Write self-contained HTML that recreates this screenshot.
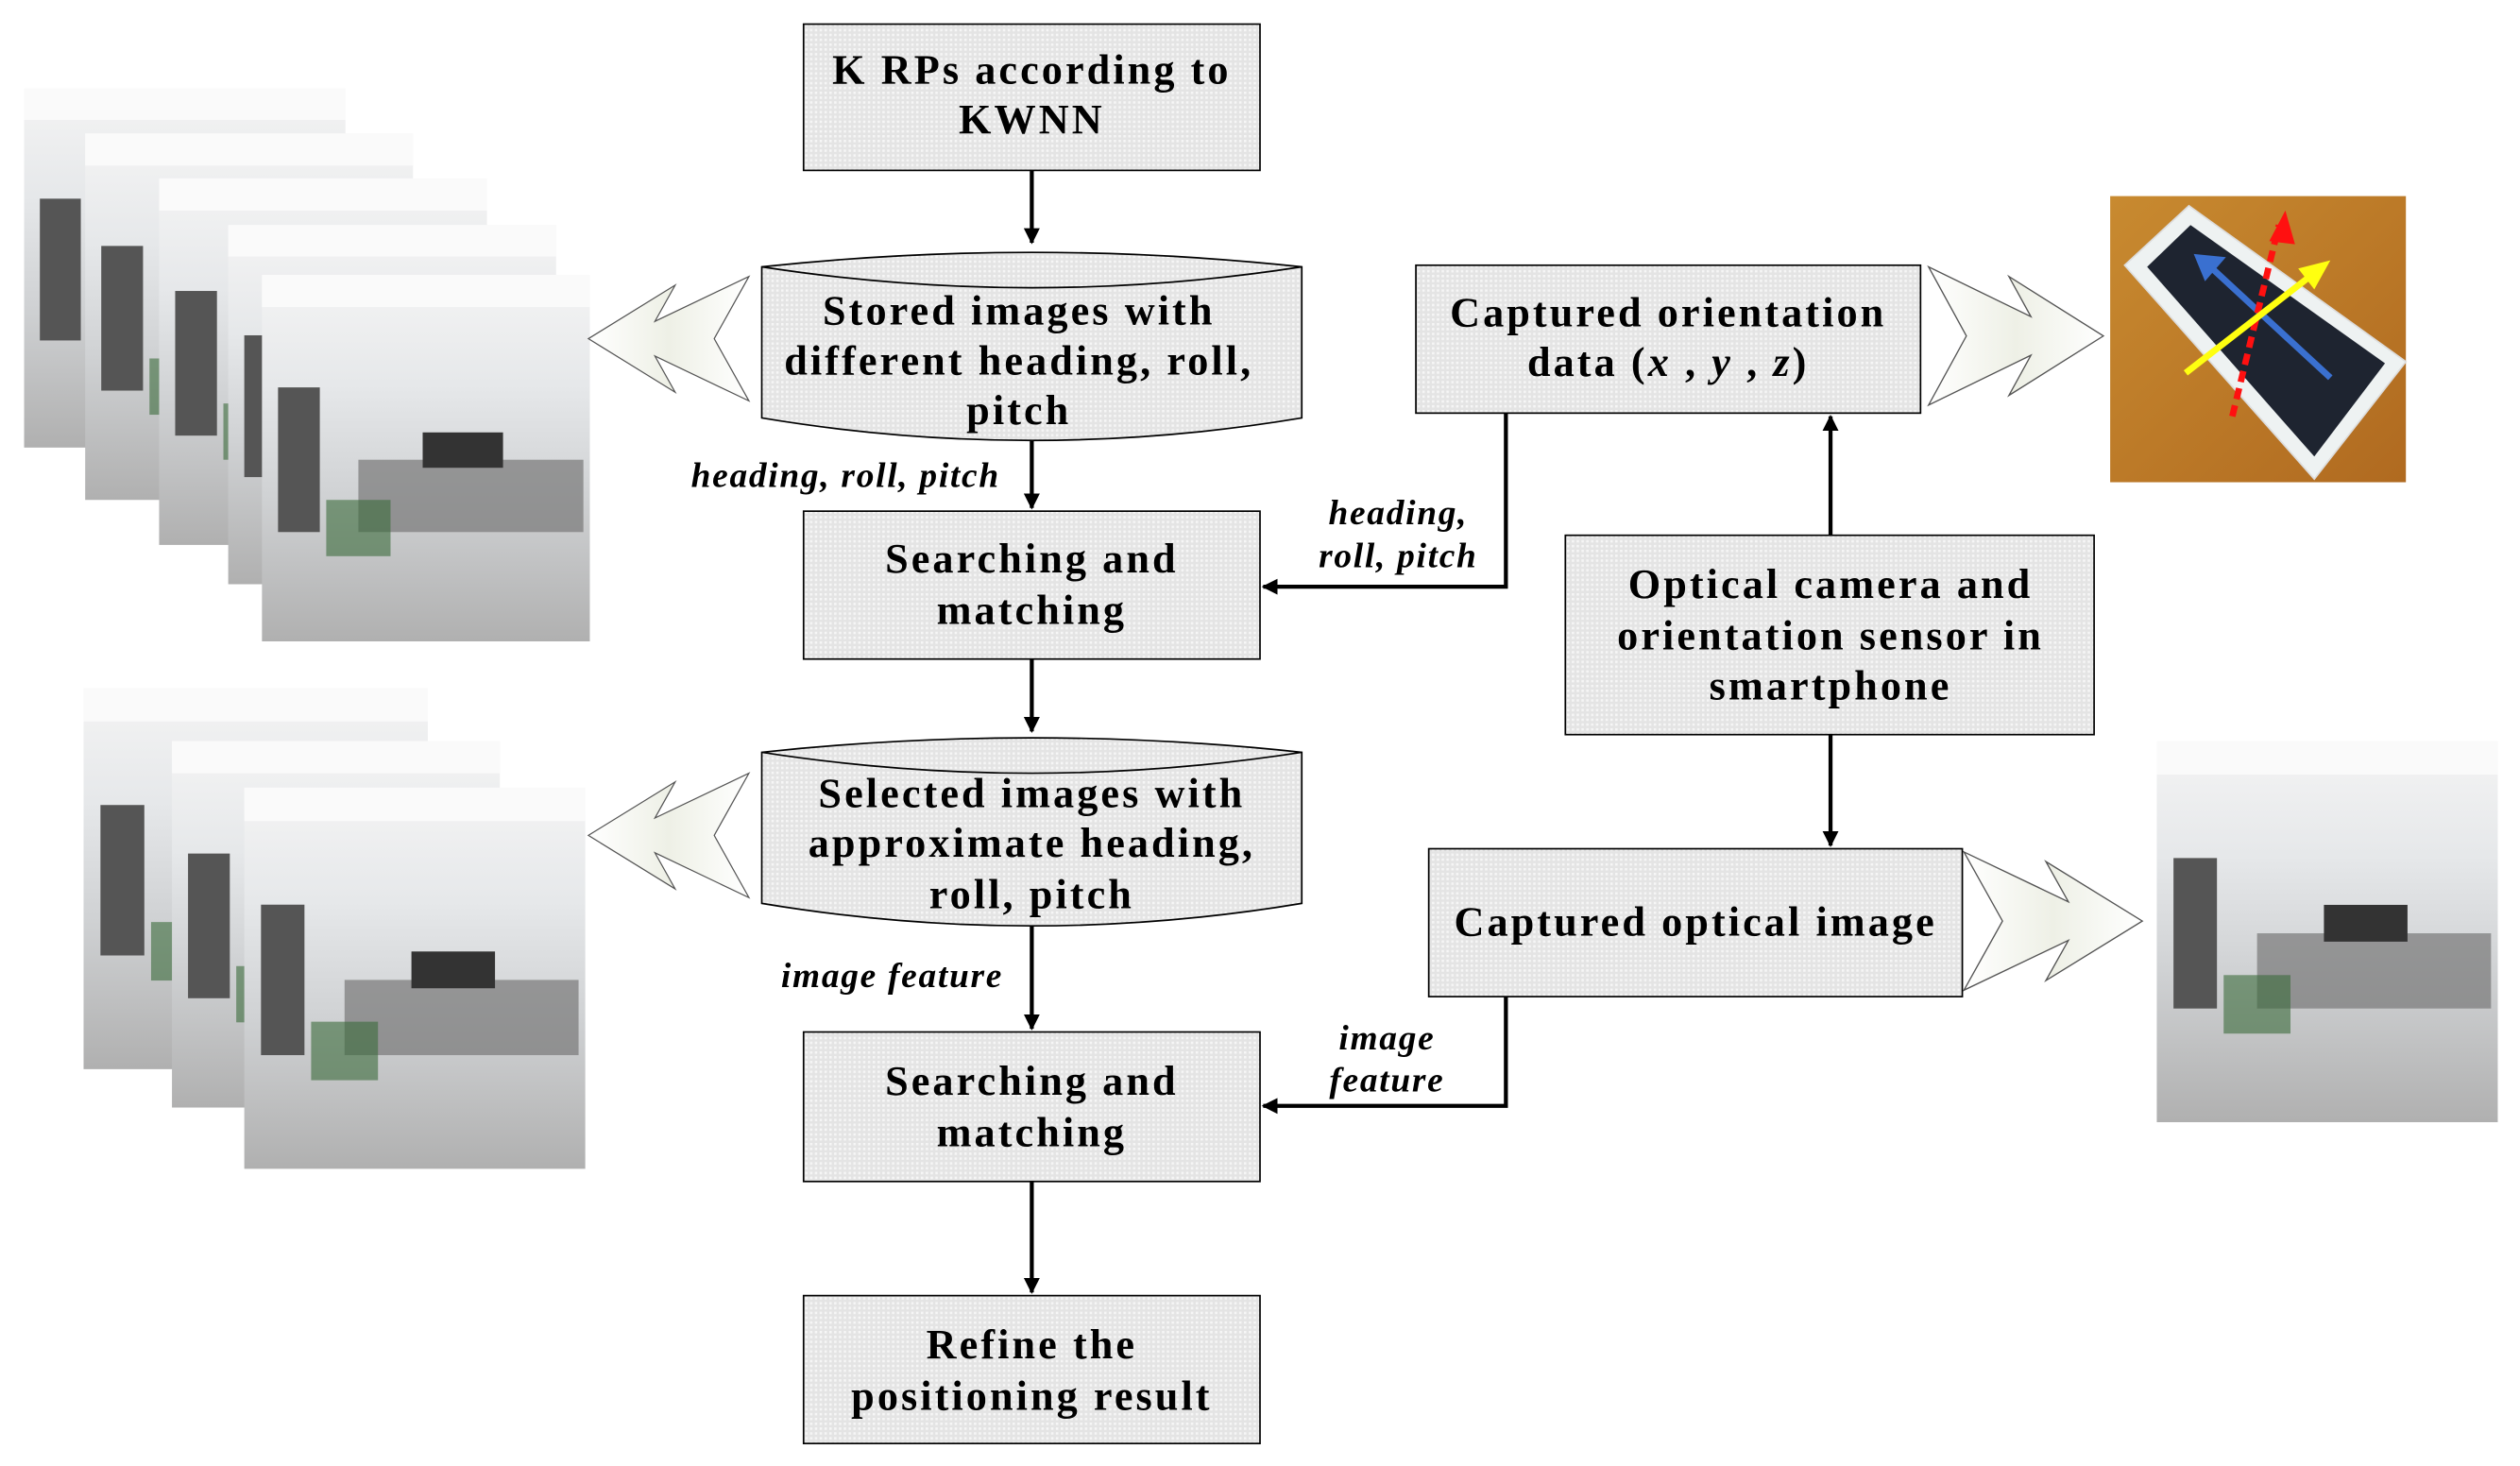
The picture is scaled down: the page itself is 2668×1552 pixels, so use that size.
<!DOCTYPE html>
<html><head><meta charset="utf-8"><style>html,body{margin:0;padding:0;background:#fff}svg{display:block}</style></head><body>
<svg width="2668" height="1552" viewBox="0 0 1568 912" preserveAspectRatio="none" xmlns="http://www.w3.org/2000/svg">
<defs>
<pattern id="dots" width="3" height="3" patternUnits="userSpaceOnUse"><rect width="3" height="3" fill="#e4e4e4"/><rect width="1.5" height="1.5" fill="#f6f6f6"/></pattern>
<linearGradient id="room" x1="0" y1="0" x2="0" y2="1"><stop offset="0" stop-color="#f4f4f4"/><stop offset="0.3" stop-color="#e6e8ea"/><stop offset="0.6" stop-color="#d0d2d4"/><stop offset="1" stop-color="#b0b0b0"/></linearGradient>
<linearGradient id="wood" x1="0" y1="0" x2="1" y2="1"><stop offset="0" stop-color="#c88a30"/><stop offset="1" stop-color="#b06a20"/></linearGradient>
<linearGradient id="hg" x1="0" y1="0" x2="1" y2="0"><stop offset="0" stop-color="#ffffff"/><stop offset="0.5" stop-color="#eef0e6"/><stop offset="1" stop-color="#ffffff"/></linearGradient>
<marker id="ah" markerWidth="10" markerHeight="10" refX="9" refY="5" orient="auto" markerUnits="userSpaceOnUse"><path d="M0,0 L10,5 L0,10 Z" fill="#000"/></marker>
<g id="photo"><rect width="204" height="228" fill="url(#room)"/><rect x="0" y="0" width="204" height="20" fill="#fafafa"/><rect x="10" y="70" width="26" height="90" fill="#555"/><rect x="60" y="115" width="140" height="45" fill="#777" opacity="0.7"/><rect x="100" y="98" width="50" height="22" fill="#333"/><rect x="40" y="140" width="40" height="35" fill="#3a6a3a" opacity="0.6"/></g>
<path id="dch" d="M0,0 L65,31 L51,6 L111,43 L51,80 L65,55 L0,86 L24,43 Z"/>
</defs>
<style>
.t{font-family:"Liberation Serif",serif;font-weight:bold;font-size:26px;letter-spacing:1.8px;text-anchor:middle}
.i{font-family:"Liberation Serif",serif;font-weight:bold;font-style:italic;font-size:22px;letter-spacing:1px}
.b{fill:url(#dots);stroke:#000;stroke-width:1}
.l{stroke:#000;stroke-width:2.5;fill:none}
.h{fill:url(#hg);stroke:#555;stroke-width:0.8}
</style>

<use href="#photo" transform="translate(15,55) scale(0.98,0.98)"/>
<use href="#photo" transform="translate(53,83)"/>
<use href="#photo" transform="translate(99,111)"/>
<use href="#photo" transform="translate(142,140) scale(1,0.98)"/>
<use href="#photo" transform="translate(163,171)"/>
<use href="#photo" transform="translate(52,428) scale(1.05,1.04)"/>
<use href="#photo" transform="translate(107,461)"/>
<use href="#photo" transform="translate(152,490) scale(1.04,1.04)"/>
<use href="#photo" transform="translate(1342,461) scale(1.04,1.04)"/>
<!-- phone -->
<rect x="1313" y="122" width="184" height="178" fill="url(#wood)"/>
<path d="M1322,165 L1362,128 L1497,225 L1440,298 Z" fill="#eef2f2" stroke="#ddd"/>
<path d="M1336,166 L1363,140 L1484,226 L1440,284 Z" fill="#1e2430"/>
<line x1="1450" y1="235" x2="1371" y2="162" stroke="#3a70d0" stroke-width="4"/>
<path d="M1365,158 L1385,160 L1372,175 Z" fill="#3a70d0"/>
<line x1="1389" y1="259" x2="1418" y2="140" stroke="#ff1010" stroke-width="4" stroke-dasharray="7,4"/>
<path d="M1422,131 L1428,152 L1412,150 Z" fill="#ff1010"/>
<line x1="1360" y1="232" x2="1445" y2="166" stroke="#ffff10" stroke-width="4"/>
<path d="M1450,162 L1440,180 L1430,167 Z" fill="#ffff10"/>

<use href="#dch" class="h" transform="translate(466,172) scale(-0.9,0.9)"/>
<use href="#dch" class="h" transform="translate(466,481) scale(-0.9,0.9)"/>
<use href="#dch" class="h" transform="translate(1200,166) scale(0.98,1)"/>
<use href="#dch" class="h" transform="translate(1222,530) scale(1,1)"/>

<rect class="b" x="500" y="15" width="284" height="91"/>
<text class="t" x="642" y="52">K RPs according to</text>
<text class="t" x="642" y="83">KWNN</text>
<line class="l" x1="642" y1="106" x2="642" y2="151" marker-end="url(#ah)"/>

<path class="b" d="M474,166 Q642,148 810,166 L810,260 Q642,288 474,260 Z"/>
<path d="M474,166 Q642,192 810,166" fill="none" stroke="#000"/>
<text class="t" x="634" y="202">Stored images with</text>
<text class="t" x="634" y="233">different heading, roll,</text>
<text class="t" x="634" y="264">pitch</text>
<line class="l" x1="642" y1="274" x2="642" y2="316" marker-end="url(#ah)"/>
<text class="i" x="430" y="303">heading, roll, pitch</text>

<rect class="b" x="500" y="318" width="284" height="92"/>
<text class="t" x="642" y="356">Searching and</text>
<text class="t" x="642" y="388">matching</text>
<line class="l" x1="642" y1="410" x2="642" y2="455" marker-end="url(#ah)"/>

<path class="b" d="M474,468 Q642,450 810,468 L810,562 Q642,590 474,562 Z"/>
<path d="M474,468 Q642,494 810,468" fill="none" stroke="#000"/>
<text class="t" x="642" y="502">Selected images with</text>
<text class="t" x="642" y="533">approximate heading,</text>
<text class="t" x="642" y="565">roll, pitch</text>
<line class="l" x1="642" y1="576" x2="642" y2="640" marker-end="url(#ah)"/>
<text class="i" x="486" y="614">image feature</text>

<rect class="b" x="500" y="642" width="284" height="93"/>
<text class="t" x="642" y="681">Searching and</text>
<text class="t" x="642" y="713">matching</text>
<line class="l" x1="642" y1="735" x2="642" y2="804" marker-end="url(#ah)"/>

<rect class="b" x="500" y="806" width="284" height="92"/>
<text class="t" x="642" y="845">Refine the</text>
<text class="t" x="642" y="877">positioning result</text>

<rect class="b" x="881" y="165" width="314" height="92"/>
<text class="t" x="1038" y="203">Captured orientation</text>
<text class="t" x="1038" y="234">data (<tspan font-style="italic">x</tspan> , <tspan font-style="italic">y</tspan> , <tspan font-style="italic">z</tspan>)</text>

<rect class="b" x="974" y="333" width="329" height="124"/>
<text class="t" x="1139" y="372">Optical camera and</text>
<text class="t" x="1139" y="404">orientation sensor in</text>
<text class="t" x="1139" y="435">smartphone</text>
<line class="l" x1="1139" y1="333" x2="1139" y2="259" marker-end="url(#ah)"/>
<line class="l" x1="1139" y1="457" x2="1139" y2="526" marker-end="url(#ah)"/>

<rect class="b" x="889" y="528" width="332" height="92"/>
<text class="t" x="1055" y="582">Captured optical image</text>

<polyline class="l" points="937,257 937,365 786,365" marker-end="url(#ah)"/>
<text class="i" x="870" y="326" text-anchor="middle">heading,</text>
<text class="i" x="870" y="353" text-anchor="middle">roll, pitch</text>
<polyline class="l" points="937,620 937,688 786,688" marker-end="url(#ah)"/>
<text class="i" x="863" y="653" text-anchor="middle">image</text>
<text class="i" x="863" y="679" text-anchor="middle">feature</text>
</svg>
</body></html>
